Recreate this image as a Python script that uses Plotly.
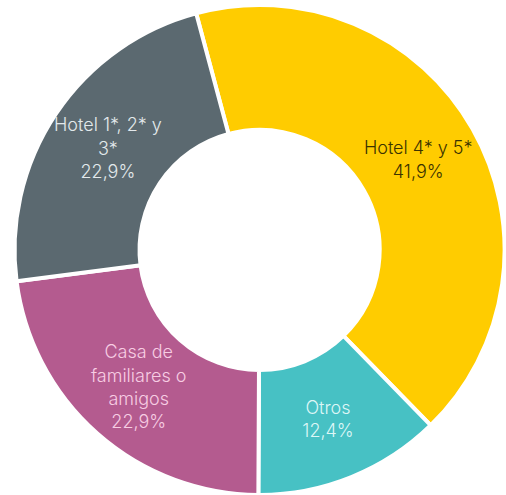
import plotly.graph_objects as go

# Accommodation type shares (%)
categories = ["Hotel 4* y 5*", "Otros", "Casa de familiares o amigos", "Hotel 1*, 2* y 3*"]
display_names = ["Hotel 4* y 5*", "Otros", "Casa de<br>familiares o<br>amigos", "Hotel 1*, 2* y<br>3*"]
shares = [41.9, 12.4, 22.9, 22.9]

slice_colors = ["#FFCC00", "#47C1C4", "#B45B8F", "#5B6970"]
text_colors = ["#3B3300", "#DDF6F6", "#F7CDE3", "#E3E9EC"]

share_text = [f"{v:.1f}".replace(".", ",") + "%" for v in shares]

fig = go.Figure(
    go.Pie(
        labels=categories,
        values=shares,
        customdata=display_names,
        text=share_text,
        texttemplate="%{customdata}<br>%{text}",
        textposition="inside",
        insidetextorientation="horizontal",
        insidetextfont=dict(family="Inter", size=18, weight=300, color=text_colors),
        hole=0.49,
        sort=False,
        direction="clockwise",
        rotation=-15,
        marker=dict(colors=slice_colors, line=dict(color="white", width=4)),
        showlegend=False,
        domain=dict(x=[0.026, 1.0], y=[0.0, 0.99]),
    )
)

fig.update_layout(
    width=506,
    height=495,
    margin=dict(l=0, r=0, t=0, b=0),
    paper_bgcolor="white",
    plot_bgcolor="white",
    uniformtext=dict(minsize=18, mode="show"),
)

fig.write_html("out.html")
